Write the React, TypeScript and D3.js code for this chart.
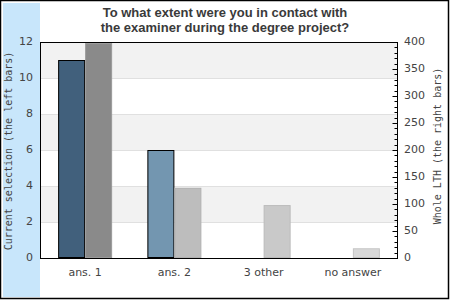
import React from "react";
import * as d3 from "d3";

const categories = ["ans. 1", "ans. 2", "3 other", "no answer"];
const currentSelection = [11, 6, 0, 0];
const wholeLTH = [398, 130, 98, 18];
const leftTicks = [0, 2, 4, 6, 8, 10, 12];
const rightTicks = [0, 50, 100, 150, 200, 250, 300, 350, 400];
const leftFill = ["#41607c", "#7396b0", "#7396b0", "#7396b0"];
const rightFill = ["#8a8a8a", "#bdbdbd", "#c9c9c9", "#d9d9d9"];
const rightStroke = ["#9a9a9a", "#b0b0b0", "#bbbbbb", "#c4c4c4"];

export default function App() {
  const W = 450, H = 300;
  const left = 40, right = 397, top = 42, bottom = 258;
  const x = d3.scaleBand<string>().domain(categories).range([left, right]);
  const yL = d3.scaleLinear().domain([0, 12]).range([bottom, top]);
  const yR = d3.scaleLinear().domain([0, 400]).range([bottom, top]);
  const bw = 27;
  const minor = d3.range(0, 401, 10);
  const font = "DejaVu Sans, sans-serif";
  const titleFont = "Liberation Sans, Arial, sans-serif";
  const mono = "DejaVu Sans Mono, monospace";
  return (
    <svg width={W} height={H} style={{ position: "absolute", left: 0, top: 0 }}>
      <rect x={0} y={0} width={W} height={H} fill="#fff" />
      <rect x={3} y={3} width={37} height={294} fill="#c8e6fb" />
      <rect x={0.5} y={0.5} width={448} height={298} fill="none" stroke="#000" strokeWidth={1.5} />
      {leftTicks.slice(0, -1).map((t, i) => (
        <rect key={t} x={left} y={yL(t + 2)} width={right - left} height={yL(t) - yL(t + 2)}
          fill={i % 2 === 1 ? "#f2f2f2" : "#fff"} />
      ))}
      {leftTicks.slice(1, -1).map((t) => (
        <line key={t} x1={left} x2={right} y1={yL(t) + 0.5} y2={yL(t) + 0.5} stroke="#e0e0e0" />
      ))}
      {categories.map((c, i) => {
        const cx = (x(c) as number) + x.bandwidth() / 2 + 0.5;
        return (
          <g key={c}>
            {currentSelection[i] > 0 && (
              <rect x={cx - bw + 0.5} y={yL(currentSelection[i]) + 0.5} width={bw - 1}
                height={yL(0) - yL(currentSelection[i]) - 1} fill={leftFill[i]} stroke="#000" strokeWidth={1} />
            )}
            <rect x={cx + 0.5} y={yR(wholeLTH[i]) + 0.5} width={bw - 1}
              height={yR(0) - yR(wholeLTH[i]) - 1} fill={rightFill[i]} stroke={rightStroke[i]} strokeWidth={1} />
            <text x={cx} y={273} textAnchor="middle" dominantBaseline="middle" fontFamily={font}
              fontSize={11} fill="#444">{c}</text>
          </g>
        );
      })}
      <rect x={left + 0.5} y={top + 0.5} width={right - left} height={bottom - top}
        fill="none" stroke="#000" strokeWidth={1} />
      {minor.map((t) => (
        <line key={t} x1={right + 0.5 - (t % 50 === 0 ? 5 : 3)} x2={right + 0.5}
          y1={Math.round(yR(t)) + 0.5} y2={Math.round(yR(t)) + 0.5} stroke="#000" />
      ))}
      {leftTicks.map((t) => (
        <text key={t} x={33} y={yL(t)} textAnchor="end" dominantBaseline="middle" fontFamily={font}
          fontSize={11} fill="#444">{t}</text>
      ))}
      {rightTicks.map((t) => (
        <text key={t} x={404} y={yR(t)} textAnchor="start" dominantBaseline="middle" fontFamily={font}
          fontSize={11} fill="#444">{t}</text>
      ))}
      <text x={225} y={17} textAnchor="middle" fontFamily={titleFont} fontSize={13} fontWeight="bold" fill="#3a3a3a">
        To what extent were you in contact with
      </text>
      <text x={225} y={32} textAnchor="middle" fontFamily={titleFont} fontSize={13} fontWeight="bold" fill="#3a3a3a">
        the examiner during the degree project?
      </text>
      <text transform={`translate(9,151) rotate(-90)`} textAnchor="middle" dominantBaseline="middle"
        fontFamily={mono} fontSize={10} fill="#444">Current selection (the left bars)</text>
      <text transform={`translate(438,146) rotate(-90)`} textAnchor="middle" dominantBaseline="middle"
        fontFamily={mono} fontSize={10} fill="#444">Whole LTH (the right bars)</text>
    </svg>
  );
}
